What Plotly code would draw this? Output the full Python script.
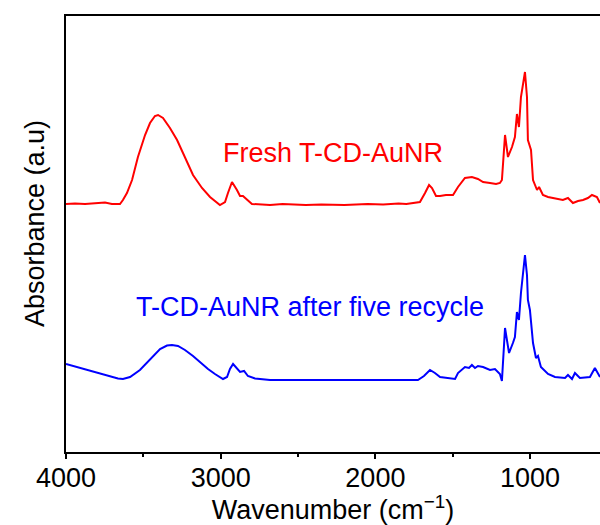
import plotly.graph_objects as go

# FTIR spectra (wavenumber in cm^-1, absorbance in arbitrary units, offset for clarity)
fresh_wn = [4000, 3942, 3877, 3813, 3748, 3703, 3651, 3632, 3606, 3573, 3535, 3489, 3457,
            3425, 3405, 3373, 3328, 3282, 3231, 3179, 3121, 3069, 3005, 2972, 2953, 2927,
            2895, 2875, 2856, 2830, 2798, 2681, 2600, 2450, 2350, 2200, 2050, 1950, 1850,
            1800, 1750, 1712, 1679, 1653, 1634, 1608, 1582, 1544, 1498, 1466, 1421, 1376,
            1337, 1304, 1259, 1220, 1195, 1182, 1162, 1143, 1117, 1098, 1085, 1072, 1059,
            1046, 1033, 1020, 1014, 994, 981, 955, 942, 917, 884, 852, 788, 755, 723, 690,
            658, 626, 600, 568, 548]
fresh_abs = [2.48, 2.485, 2.48, 2.49, 2.495, 2.48, 2.48, 2.52, 2.59, 2.72, 2.95, 3.17, 3.29,
             3.36, 3.37, 3.34, 3.24, 3.12, 2.94, 2.77, 2.64, 2.55, 2.47, 2.50, 2.59, 2.70,
             2.62, 2.56, 2.56, 2.52, 2.48, 2.47, 2.48, 2.47, 2.475, 2.47, 2.48, 2.475, 2.485,
             2.48, 2.49, 2.50, 2.59, 2.67, 2.64, 2.56, 2.56, 2.57, 2.57, 2.65, 2.74, 2.75,
             2.73, 2.70, 2.69, 2.68, 2.69, 2.72, 3.17, 2.95, 3.05, 3.15, 3.38, 3.25, 3.55,
             3.67, 3.80, 3.55, 3.12, 3.02, 2.72, 2.62, 2.65, 2.57, 2.55, 2.54, 2.52, 2.54, 2.49,
             2.51, 2.52, 2.54, 2.57, 2.55, 2.49]

recycled_wn = [4000, 3910, 3813, 3716, 3664, 3632, 3586, 3522, 3457, 3392, 3347, 3315, 3276,
               3231, 3179, 3134, 3082, 3037, 2985, 2959, 2940, 2920, 2895, 2875, 2849, 2824,
               2778, 2681, 2400, 2000, 1725, 1686, 1647, 1615, 1582, 1485, 1466, 1421, 1395,
               1376, 1356, 1337, 1304, 1259, 1227, 1195, 1182, 1162, 1136, 1111, 1098, 1085,
               1072, 1059, 1046, 1033, 1020, 1014, 1001, 981, 962, 949, 930, 884, 839, 774,
               755, 729, 710, 678, 613, 581, 548]
recycled_abs = [0.88, 0.84, 0.80, 0.76, 0.735, 0.73, 0.75, 0.82, 0.93, 1.03, 1.065, 1.07, 1.06,
                1.02, 0.96, 0.90, 0.83, 0.78, 0.73, 0.75, 0.83, 0.88, 0.83, 0.80, 0.81, 0.76,
                0.735, 0.72, 0.72, 0.72, 0.72, 0.76, 0.82, 0.79, 0.75, 0.73, 0.79, 0.85, 0.84,
                0.87, 0.84, 0.86, 0.85, 0.82, 0.83, 0.78, 0.71, 1.24, 0.99, 1.09, 1.15, 1.40,
                1.32, 1.59, 1.82, 1.97, 1.77, 1.52, 1.42, 1.09, 0.94, 0.96, 0.85, 0.78, 0.75, 0.74,
                0.77, 0.73, 0.79, 0.74, 0.75, 0.84, 0.75]

x_ticks = [4000, 3000, 2000, 1000]
x_labels = ["4000", "3000", "2000", "1000"]

FONT = "Liberation Sans, Arial, sans-serif"
SIZE = 27

fig = go.Figure()
fig.add_trace(go.Scatter(x=fresh_wn, y=fresh_abs, mode="lines",
                         line=dict(color="#ff0000", width=2), showlegend=False))
fig.add_trace(go.Scatter(x=recycled_wn, y=recycled_abs, mode="lines",
                         line=dict(color="#0000ff", width=2), showlegend=False))

fig.add_annotation(text="Fresh T-CD-AuNR", xref="paper", yref="paper", x=0.5, y=0.686,
                   xanchor="center", yanchor="middle", showarrow=False,
                   font=dict(family=FONT, size=SIZE, color="#ff0000"))
fig.add_annotation(text="T-CD-AuNR after five recycle", xref="paper", yref="paper",
                   x=0.457, y=0.333, xanchor="center", yanchor="middle", showarrow=False,
                   font=dict(family=FONT, size=SIZE, color="#0000ff"))
fig.add_annotation(text="Absorbance (a.u)", xref="paper", yref="paper", x=-0.058, y=0.523,
                   xanchor="center", yanchor="middle", textangle=-90, showarrow=False,
                   font=dict(family=FONT, size=SIZE, color="black"))

fig.update_layout(
    width=600, height=525,
    margin=dict(l=66, r=0, t=16, b=73),
    paper_bgcolor="white", plot_bgcolor="white",
    font=dict(family=FONT, color="black"),
    xaxis=dict(
        range=[4000, 548], autorange=False,
        tickvals=x_ticks, ticktext=x_labels,
        ticks="outside", ticklen=5, tickwidth=2, tickcolor="black",
        ticklabelstandoff=-4,
        minor=dict(dtick=500, tick0=0, ticks="outside", ticklen=3, tickwidth=2, tickcolor="black"),
        showline=True, linewidth=2, linecolor="black", mirror=True,
        showgrid=False, zeroline=False,
        tickfont=dict(family=FONT, size=SIZE, color="black"),
        title=dict(text="Wavenumber (cm<sup>\u22121</sup>)", standoff=4,
                   font=dict(family=FONT, size=SIZE, color="black")),
    ),
    yaxis=dict(
        range=[0, 4.36], autorange=False,
        showticklabels=False, ticks="",
        showline=True, linewidth=2, linecolor="black", mirror=False,
        showgrid=False, zeroline=False,
    ),
)

fig.write_html("out.html")
